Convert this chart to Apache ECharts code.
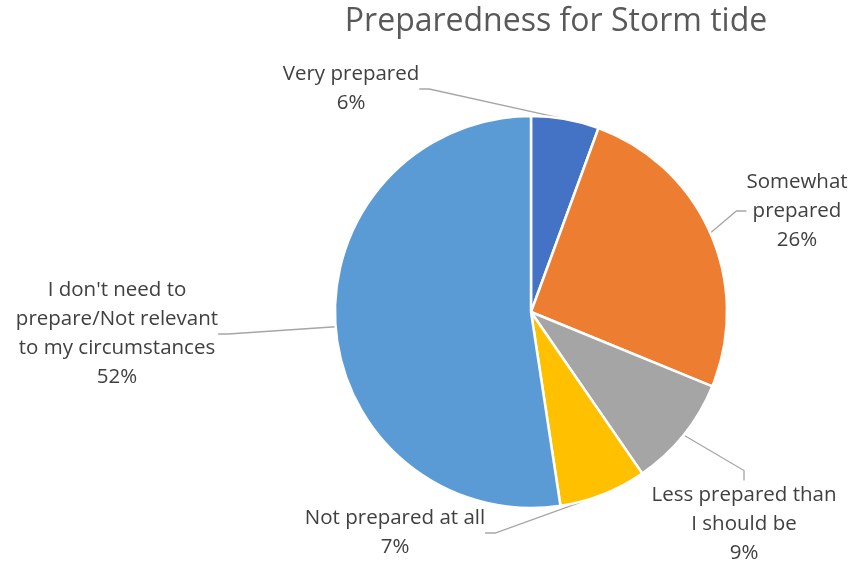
<!DOCTYPE html>
<html>
<head>
<meta charset="utf-8">
<script src="https://cdn.jsdelivr.net/npm/echarts@6/dist/echarts.min.js"></script>
<style>html,body{margin:0;padding:0;background:#fff;}#c{width:853px;height:563px;}</style>
</head>
<body>
<div id="c"></div>
<script>
const titleText = 'Preparedness for Storm tide';
const categories = ['Very prepared', 'Somewhat prepared', 'Less prepared than I should be', 'Not prepared at all', "I don't need to prepare/Not relevant to my circumstances"];
const labelTexts = ['Very prepared', 'Somewhat\nprepared', 'Less prepared than\nI should be', 'Not prepared at all', "I don't need to\nprepare/Not relevant\nto my circumstances"];
const values = [5.6, 25.6, 9.2, 7.2, 52.4];
const colors = ['#4472C4', '#ED7D31', '#A5A5A5', '#FFC000', '#5B9BD5'];
// label centre positions (layout only)
const labelPos = [[351, 89], [797, 211], [744, 524], [395, 533], [117, 334]];

const FONT = '"Open Sans", sans-serif';
const chart = echarts.init(document.getElementById('c'), null, {renderer: 'canvas'});
chart.setOption({
  animation: false,
  title: {
    text: titleText, left: 551, top: 1, textAlign: 'center',
    textStyle: {fontFamily: FONT, fontSize: 32, fontWeight: 'normal', color: '#595959'}
  },
  series: [{
    type: 'pie',
    center: [531, 312],
    radius: 196,
    startAngle: 90,
    clockwise: true,
    data: categories.map((c, i) => ({name: c, value: values[i], itemStyle: {color: colors[i]}})),
    itemStyle: {borderColor: '#fff', borderWidth: 2.5},
    label: {
      show: true, overflow: 'none',
      fontFamily: FONT, fontSize: 20.5, color: '#404040', lineHeight: 29, align: 'center',
      formatter: p => labelTexts[p.dataIndex] + '\n' + Math.round(p.percent) + '%'
    },
    labelLine: {show: true, lineStyle: {color: '#A6A6A6', width: 1.3}, length: 15, length2: 10},
    labelLayout: p => ({x: labelPos[p.dataIndex][0], y: labelPos[p.dataIndex][1], align: 'center', verticalAlign: 'middle'}),
    emphasis: {disabled: true}
  }]
});
</script>
</body>
</html>
